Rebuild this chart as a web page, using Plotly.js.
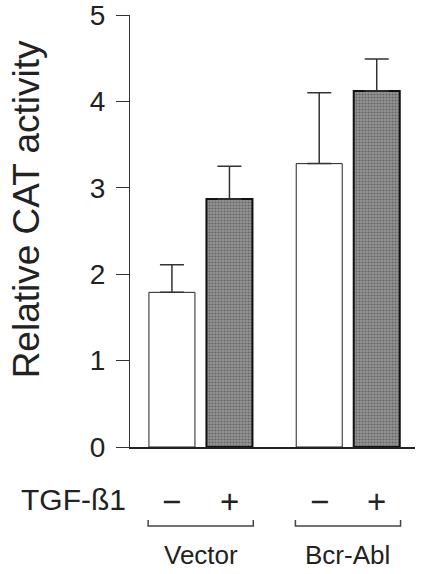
<!DOCTYPE html>
<html>
<head>
<meta charset="utf-8">
<script src="https://cdn.plot.ly/plotly-3.0.1.min.js"></script>
<style>html,body{margin:0;padding:0;background:#fff;}#chart{width:422px;height:574px;}</style>
</head>
<body>
<div id="chart"></div>
<script>
// ---- data ----
var groups = ["Vector", "Bcr-Abl"];
var tgfLabels = ["\u2212", "+"];
var tgfMinus = [1.79, 3.28];
var tgfMinusErr = [0.32, 0.82];
var tgfPlus = [2.87, 4.12];
var tgfPlusErr = [0.38, 0.37];
var yTicks = [0, 1, 2, 3, 4, 5];

// ---- layout constants ----
var FONT = "Liberation Sans, Arial, sans-serif";
var bargap = 0.219, bargroupgap = 0.2;
var slot = (1 - bargap) / 2;           // width of one trace slot in category units
var barOffsets = [-slot / 2, slot / 2];
var bracketHalf = 0.357;

var traces = [
  {
    type: "bar", x: groups, y: tgfMinus, name: "TGF-\u03b21 \u2212",
    marker: {color: "#ffffff", line: {color: "#222", width: 1}},
    error_y: {type: "data", array: tgfMinusErr, symmetric: false, arrayminus: [0, 0],
              color: "#333", thickness: 1.5, width: 12}
  },
  {
    type: "bar", x: groups, y: tgfPlus, name: "TGF-\u03b21 +",
    marker: {color: "#888888", line: {color: "#111", width: 2},
             pattern: {shape: ".", fgcolor: "#666666", bgcolor: "#959595", size: 3, solidity: 0.4, fillmode: "replace"}},
    error_y: {type: "data", array: tgfPlusErr, symmetric: false, arrayminus: [0, 0],
              color: "#333", thickness: 1.5, width: 12}
  }
];

var annotations = [];
var shapes = [];
groups.forEach(function (g, gi) {
  tgfLabels.forEach(function (lab, ti) {
    annotations.push({
      xref: "x", yref: "paper", x: gi + barOffsets[ti], y: -0.127,
      text: lab, showarrow: false, font: {family: FONT, size: 33, color: "#222"},
      xanchor: "center", yanchor: "middle"
    });
  });
  var x0 = gi - bracketHalf, x1 = gi + bracketHalf;
  var yb = -0.183, yt = -0.169;
  shapes.push({type: "path", xref: "x", yref: "paper",
    path: "M" + x0 + "," + yt + " L" + x0 + "," + yb + " L" + x1 + "," + yb + " L" + x1 + "," + yt,
    line: {color: "#444", width: 1.5}});
  annotations.push({
    xref: "x", yref: "paper", x: gi, y: -0.25,
    text: g, showarrow: false, font: {family: FONT, size: 26, color: "#222"},
    xanchor: "center", yanchor: "middle"
  });
});
annotations.push({
  xref: "paper", yref: "paper", x: -0.2, y: -0.122,
  text: "TGF-\u00df1", showarrow: false, font: {family: FONT, size: 30, color: "#222"},
  xanchor: "center", yanchor: "middle"
});
annotations.push({
  xref: "paper", yref: "paper", x: -0.36, y: 0.551,
  text: "Relative CAT activity", textangle: -90, showarrow: false,
  font: {family: FONT, size: 37, color: "#222"},
  xanchor: "center", yanchor: "middle"
});

var layout = {
  width: 422, height: 574,
  margin: {l: 130, r: 7, t: 15, b: 127},
  paper_bgcolor: "#fff", plot_bgcolor: "#fff",
  showlegend: false,
  barmode: "group", bargap: bargap, bargroupgap: bargroupgap,
  xaxis: {
    type: "category", range: [-0.48, 1.455], showticklabels: false, ticks: "",
    showline: true, linecolor: "#222", linewidth: 1.5, showgrid: false, zeroline: false, fixedrange: true
  },
  yaxis: {
    range: [0, 5], tickvals: yTicks, ticks: "outside", ticklen: 13, tickcolor: "#333", tickwidth: 1,
    showline: true, linecolor: "#333", linewidth: 1, showgrid: false, zeroline: false,
    tickfont: {family: FONT, size: 28, color: "#222"}, ticklabelstandoff: 5,
    ticklabeloverflow: "allow", fixedrange: true
  },
  annotations: annotations,
  shapes: shapes
};

Plotly.newPlot("chart", traces, layout, {displayModeBar: false, staticPlot: true});
</script>
</body>
</html>
